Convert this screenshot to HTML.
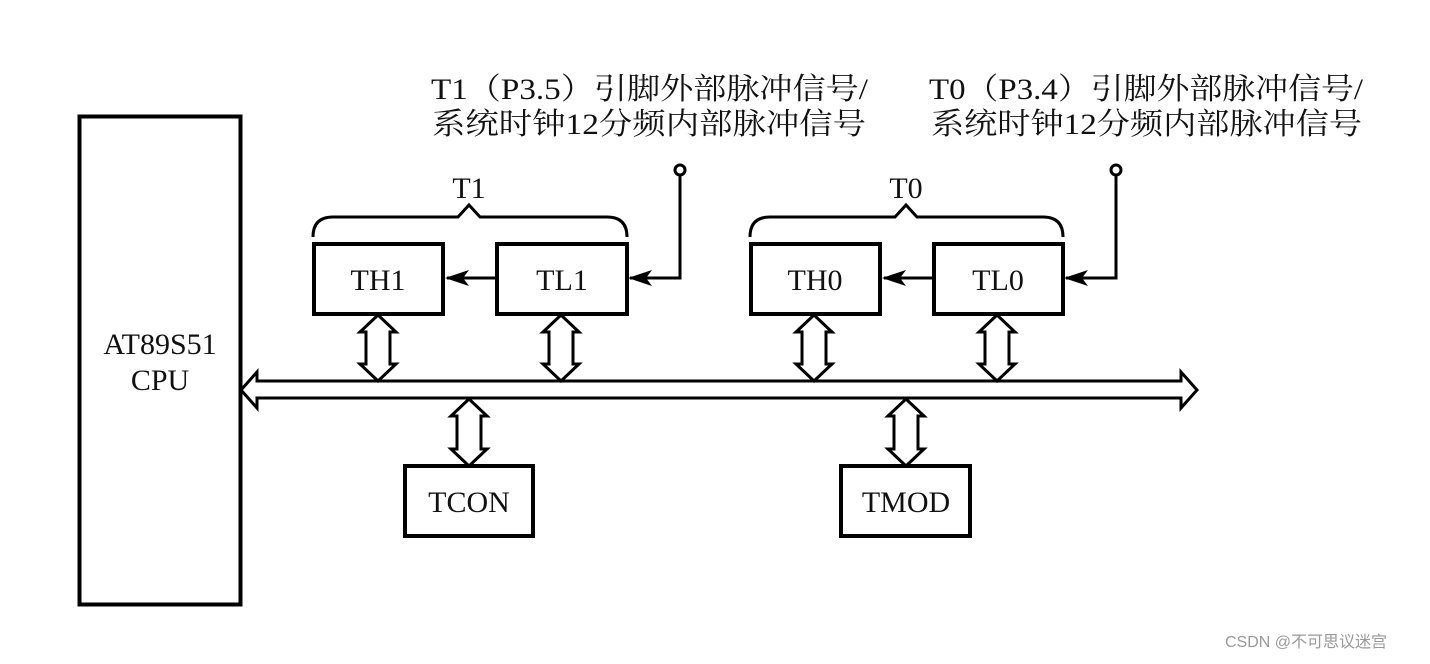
<!DOCTYPE html>
<html><head><meta charset="utf-8"><style>
html,body{margin:0;padding:0;background:#fff;}
svg{display:block;}
text{font-family:"Liberation Serif","Noto Serif CJK SC","Noto Sans CJK SC",serif;fill:#111;}
</style></head><body>
<svg width="1430" height="664" viewBox="0 0 1430 664" xmlns="http://www.w3.org/2000/svg">
<g fill="none" stroke="#000">
<!-- CPU -->
<rect x="79.5" y="116.5" width="161" height="488" stroke-width="4"/>
<!-- registers -->
<rect x="314" y="244" width="129" height="70" stroke-width="4"/>
<rect x="497" y="244" width="130" height="70" stroke-width="4"/>
<rect x="751" y="244" width="129" height="70" stroke-width="4"/>
<rect x="934" y="244" width="129" height="70" stroke-width="4"/>
<rect x="405" y="466" width="128" height="70" stroke-width="4"/>
<rect x="841" y="466" width="129" height="70" stroke-width="4"/>
<!-- bus -->
<path d="M241 390 L257 372 L257 381 L1181 381 L1181 372 L1197 390 L1181 408 L1181 398 L257 398 L257 408 Z" stroke-width="3" fill="#fff"/>
<!-- braces -->
<path d="M313 237 Q313 217 333 217 L458 217 L469 205 L480 217 L607 217 Q627 217 627 237" stroke-width="3"/>
<path d="M750 237 Q750 217 770 217 L895 217 L906 205 L917 217 L1043 217 Q1063 217 1063 237" stroke-width="3"/>
<!-- signal lines -->
<path d="M680 176 L680 278 L630 278" stroke-width="3"/>
<path d="M1116 176 L1116 278 L1066 278" stroke-width="3"/>
<path d="M497 278 L447 278" stroke-width="3"/>
<path d="M934 278 L884 278" stroke-width="3"/>
<circle cx="680" cy="170" r="5" stroke-width="3" fill="#fff"/>
<circle cx="1116" cy="170" r="5" stroke-width="3" fill="#fff"/>
</g>
<g fill="#000">
<path d="M628 278 L652 270 L646 278 L652 286 Z"/>
<path d="M1064 278 L1088 270 L1082 278 L1088 286 Z"/>
<path d="M445 278 L469 270 L463 278 L469 286 Z"/>
<path d="M882 278 L906 270 L900 278 L906 286 Z"/>
</g>
<!-- double arrows -->
<g fill="#fff" stroke="#000" stroke-width="3">
<path d="M378 315 L396 332 L390 332 L390 364 L396 364 L378 381 L360 364 L366 364 L366 332 L360 332 Z"/>
<path d="M561 315 L579 332 L573 332 L573 364 L579 364 L561 381 L543 364 L549 364 L549 332 L543 332 Z"/>
<path d="M814 315 L832 332 L826 332 L826 364 L832 364 L814 381 L796 364 L802 364 L802 332 L796 332 Z"/>
<path d="M997 315 L1015 332 L1009 332 L1009 364 L1015 364 L997 381 L979 364 L985 364 L985 332 L979 332 Z"/>
<path d="M469 399 L487 416 L481 416 L481 449 L487 449 L469 466 L451 449 L457 449 L457 416 L451 416 Z"/>
<path d="M906 399 L924 416 L918 416 L918 449 L924 449 L906 466 L888 449 L894 449 L894 416 L888 416 Z"/>
</g>
<g font-size="30" text-anchor="middle">
<text x="160" y="354">AT89S51</text>
<text x="160" y="390">CPU</text>
<text x="378" y="290">TH1</text>
<text x="562" y="290">TL1</text>
<text x="815" y="290">TH0</text>
<text x="998" y="290">TL0</text>
<text x="469" y="512">TCON</text>
<text x="906" y="512">TMOD</text>
<text x="469" y="198">T1</text>
<text x="906" y="198">T0</text>
</g>
<g font-size="30">
<text x="431" y="99" textLength="437" lengthAdjust="spacingAndGlyphs">T1（P3.5）引脚外部脉冲信号/</text>
<text x="432" y="134" textLength="434" lengthAdjust="spacingAndGlyphs">系统时钟12分频内部脉冲信号</text>
<text x="929" y="99" textLength="434" lengthAdjust="spacingAndGlyphs">T0（P3.4）引脚外部脉冲信号/</text>
<text x="931" y="134" textLength="431" lengthAdjust="spacingAndGlyphs">系统时钟12分频内部脉冲信号</text>
</g>
<text x="1225" y="647" font-size="16" style="font-family:'Liberation Sans','Noto Sans CJK SC',sans-serif;fill:#999">CSDN @不可思议迷宫</text>
</svg>
</body></html>
